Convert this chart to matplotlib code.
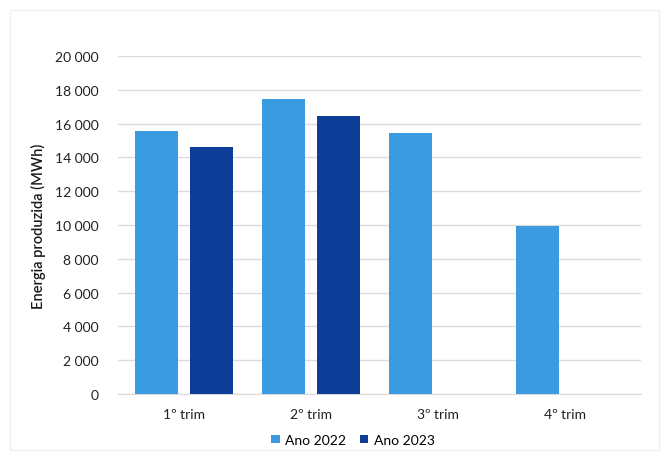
import numpy as np
import matplotlib.pyplot as plt
from matplotlib.patches import Rectangle
from matplotlib.ticker import FuncFormatter

plt.rcParams['font.family'] = ['Lato', 'DejaVu Sans']

trimestres = ["1º trim", "2º trim", "3º trim", "4º trim"]
ano_2022 = [15580, 17440, 15420, 9960]
ano_2023 = [14630, 16430, np.nan, np.nan]

cor_2022 = "#3b9be0"
cor_2023 = "#0e3d98"

fig = plt.figure(figsize=(6.66, 4.56), dpi=100)
ax = fig.add_axes([0.177, 0.134, 0.785, 0.741])

x = np.arange(len(trimestres))
largura = 0.34
desvio = 0.216

ax.bar(x - desvio, ano_2022, largura, color=cor_2022, label="Ano 2022", zorder=3)
ax.bar(x + desvio, ano_2023, largura, color=cor_2023, label="Ano 2023", zorder=3)

ax.set_ylim(0, 20000)
ax.set_xlim(-0.52, 3.6)
ax.set_yticks(np.arange(0, 20001, 2000))
ax.yaxis.set_major_formatter(FuncFormatter(lambda v, p: f"{int(v):,}".replace(",", " ")))
ax.set_xticks(x)
ax.set_xticklabels(trimestres)

ax.grid(axis="y", color="#dcdcdc", linewidth=1, zorder=0)
for lado in ["top", "right", "left"]:
    ax.spines[lado].set_visible(False)
ax.spines["bottom"].set_color("#d9d9d9")
ax.tick_params(axis="both", length=0, labelsize=10, colors="#222222")
ax.tick_params(axis="y", pad=14)
ax.tick_params(axis="x", pad=10)

ax.set_ylabel("Energia produzida (MWh)", fontsize=10.5, fontweight="semibold",
              color="#1a1a1a", labelpad=6)

fig.legend(loc="center", bbox_to_anchor=(0.53, 0.033), ncol=2, frameon=False,
           fontsize=10, handlelength=0.6, handleheight=0.6, handletextpad=0.4,
           columnspacing=1.0)

# moldura clara em volta do gráfico
fig.patches.append(Rectangle((0.015, 0.01), 0.975, 0.965, transform=fig.transFigure,
                             fill=False, edgecolor="#f0f0f0", linewidth=1))

fig.savefig("out.png", dpi=100)
